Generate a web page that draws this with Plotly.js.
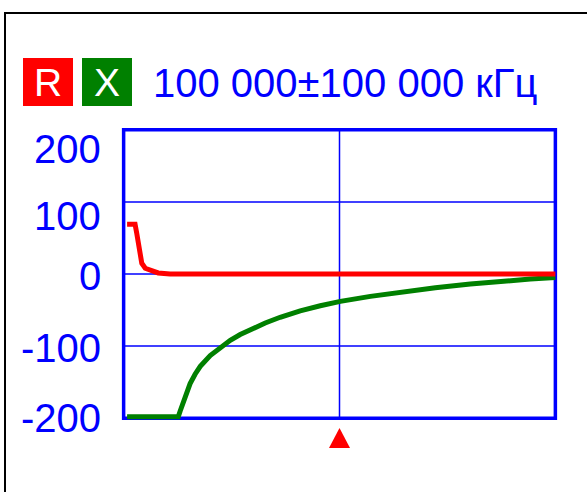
<!DOCTYPE html>
<html><head><meta charset="utf-8">
<script src="https://cdn.plot.ly/plotly-3.0.1.min.js"></script>
<style>html,body{margin:0;padding:0;background:#fff;overflow:hidden}</style>
</head><body><div id="chart" style="width:587px;height:492px"></div>
<script>
// ---- data (frequency in kHz, impedance in ohm) ----
const rFreq   = [1600, 5300, 6100, 6900, 7600, 8400, 10000, 12300, 16000, 21500, 40000, 80000, 120000, 160000, 200000];
const rValues = [69,   69,   56,   42,   28,   15,   8,     5,     1.5,   0,     0,     0,     0,      0,      0];
const xFreq   = [1600, 25300, 26200, 28500, 30800, 33100, 35500, 40100, 44700, 49400, 54000, 58600, 65600, 72500, 81800, 91100, 100400, 114300, 128200, 144400, 160600, 174500, 188400, 200000];
const xValues = [-198, -198,  -190,  -169,  -152,  -139,  -128,  -113,  -102,  -92,   -84,   -77,   -68,   -60,   -51,   -44,   -38,    -31,    -25,    -19,    -14,    -10,    -7,     -5];
const seriesNames = ['R', 'X'];
const yTickVals = [200, 100, 0, -100, -200];
const yTickText = ['200', '100', '0', '-100', '-200'];
const gridY = [100, 0, -100];
const gridX = [100000];
const markerFreq = 100000;
const headerText = '100 000±100 000 кГц';

// ---- styling / layout ----
const BLUE = '#0000FF', RED = '#FF0000', GREEN = '#008000';
const FONT = 'Liberation Sans, Arial, sans-serif';
const W = 587, H = 492, ML = 115, MR = 23, MT = 124, MB = 68;
const PW = W - ML - MR, PH = H - MT - MB;
const px2x = p => (p - ML) / PW;
const py2y = p => (H - MB - p) / PH;
const yLabelShift = [-19, -14, -2, -2, 0];

const traces = [
  {x: xFreq, y: xValues, name: seriesNames[1], type: 'scatter', mode: 'lines',
   line: {color: GREEN, width: 5}, hoverinfo: 'skip'},
  {x: rFreq, y: rValues, name: seriesNames[0], type: 'scatter', mode: 'lines',
   line: {color: RED, width: 5}, hoverinfo: 'skip'}
];

const shapes = [];
// outer frame
shapes.push({type: 'rect', xref: 'paper', yref: 'paper',
  x0: px2x(5), x1: px2x(620), y0: py2y(520), y1: py2y(13),
  line: {color: '#000', width: 2}, layer: 'below'});
// grid
gridY.forEach(v => shapes.push({type: 'line', xref: 'x', yref: 'y', x0: 0, x1: 200000, y0: v, y1: v,
  line: {color: BLUE, width: 1.5}, layer: 'below'}));
gridX.forEach(v => shapes.push({type: 'line', xref: 'x', yref: 'y', x0: v, x1: v, y0: -200, y1: 200,
  line: {color: BLUE, width: 1.5}, layer: 'below'}));
// plot border
shapes.push({type: 'rect', xref: 'x', yref: 'y', x0: 0, x1: 200000, y0: -200, y1: 200,
  line: {color: BLUE, width: 3.5}, layer: 'below'});
// marker triangle
shapes.push({type: 'path', xref: 'x', yref: 'paper', xsizemode: 'pixel', xanchor: markerFreq,
  path: `M -10.5,${py2y(448)} L 10.5,${py2y(448)} L 0,${py2y(428)} Z`,
  fillcolor: RED, line: {color: RED, width: 0}});

const annotations = [];
yTickVals.forEach((v, i) => annotations.push({
  xref: 'paper', yref: 'y', x: px2x(103), y: v, xanchor: 'right', yanchor: 'middle',
  yshift: yLabelShift[i], text: yTickText[i], showarrow: false,
  font: {family: FONT, size: 40, color: BLUE}
}));
// R / X badges
[[seriesNames[0], RED, 23], [seriesNames[1], GREEN, 82]].forEach(([t, c, x]) => annotations.push({
  xref: 'paper', yref: 'paper', x: px2x(x), y: py2y(58), xanchor: 'left', yanchor: 'top',
  text: t, showarrow: false, bgcolor: c, width: 50, height: 48, borderpad: 0, borderwidth: 0,
  align: 'center', valign: 'middle', font: {family: FONT, size: 39, color: '#FFFFFF'}
}));
annotations.push({xref: 'paper', yref: 'paper', x: px2x(151), y: py2y(83), xanchor: 'left', yanchor: 'middle',
  text: headerText, showarrow: false, font: {family: FONT, size: 40, color: BLUE}});

const layout = {
  width: W, height: H, margin: {l: ML, r: MR, t: MT, b: MB, pad: 0},
  paper_bgcolor: '#FFFFFF', plot_bgcolor: '#FFFFFF', showlegend: false,
  xaxis: {range: [-4000, 204000], showgrid: false, zeroline: false, showticklabels: false, showline: false, fixedrange: true},
  yaxis: {range: [-208, 208], showgrid: false, zeroline: false, showticklabels: false, showline: false, fixedrange: true},
  shapes: shapes, annotations: annotations
};
Plotly.newPlot('chart', traces, layout, {staticPlot: true, displayModeBar: false});
</script></body></html>
